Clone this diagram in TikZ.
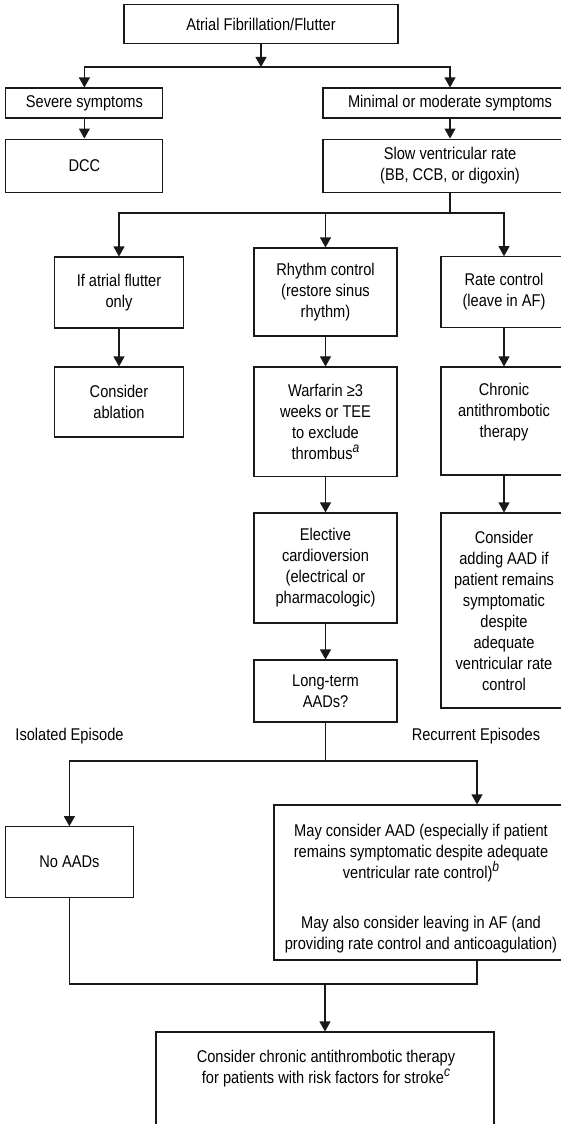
\documentclass[tikz,border=0pt]{standalone}
\usepackage{fontspec}
\setmainfont{Liberation Sans}[FakeStretch=0.86]
\usetikzlibrary{arrows.meta}
\newcommand{\fnmark}[1]{\raisebox{7pt}{\fontsize{14}{14}\selectfont\itshape #1}}
\begin{document}
\begin{tikzpicture}[x=1pt,y=-1pt]
\tikzset{
  every node/.style={font=\fontsize{17}{21}\selectfont, text=black},
  box/.style={draw=black!90, line width=1.1pt, rectangle, inner sep=0pt, align=center},
  txt/.style={inner sep=0pt, align=center},
  arr/.style={draw=black!90, line width=1.1pt, -{Triangle[width=11pt,length=10pt]}},
  ln/.style={draw=black!90, line width=1.1pt},
}
\useasboundingbox (0,0) rectangle (561,1124);
\clip (0,0) rectangle (561,1124);

% first level
\node[box, minimum width=274pt, minimum height=38.5pt] (top) at (261,24) {Atrial Fibrillation/Flutter};
\node[box, minimum width=157pt, minimum height=30pt] (severe) at (84.4,103) {Severe symptoms};
\node[box, minimum width=254pt, minimum height=30pt] (minimal) at (450,103) {Minimal or moderate symptoms};
\node[box, minimum width=157pt, minimum height=53.5pt] (dcc) at (84.4,165.8) {DCC};
\node[box, minimum width=254pt, minimum height=53.5pt] (slow) at (450,165.8) {Slow ventricular rate\\(BB, CCB, or digoxin)};

% three strategies
\node[box, minimum width=128.3pt, minimum height=71pt] (flutter) at (119,292.5) {If atrial flutter\\only};
\node[box, minimum width=143pt, minimum height=88pt] (rhythm) at (325.5,292) {Rhythm control\\(restore sinus\\rhythm)};
\node[box, minimum width=126pt, minimum height=70.5pt] (rate) at (504,292) {Rate control\\(leave in AF)};
\node[box, minimum width=128.3pt, minimum height=70pt] (ablation) at (119,402) {Consider\\ablation};
\node[box, minimum width=143pt, minimum height=109.5pt] (warfarin) at (325.5,421.7) {Warfarin ≥3\\weeks or TEE\\to exclude\\thrombus\fnmark{a}};
\node[box, minimum width=126pt, minimum height=108pt] (chronic) at (504,421) {Chronic\\antithrombotic\\therapy\\\mbox{}};
\node[box, minimum width=143pt, minimum height=110pt] (elective) at (325.5,568) {Elective\\cardioversion\\(electrical or\\pharmacologic)};
\node[box, minimum width=126pt, minimum height=195pt] (adding) at (504,610.5) {Consider\\adding AAD if\\patient remains\\symptomatic\\despite\\adequate\\ventricular rate\\control};
\node[box, minimum width=143pt, minimum height=62pt] (longterm) at (325.5,691) {Long-term\\AADs?};

% long-term therapy branches
\node[txt] (isolated) at (69.5,736) {Isolated Episode};
\node[txt] (recurrent) at (476,736) {Recurrent Episodes};
\node[box, minimum width=127.3pt, minimum height=70.5pt] (noaads) at (69.4,862) {No AADs};
\node[box, minimum width=294pt, minimum height=155pt] (may) at (421,882.5) {};
\node[txt] (mayT) at (421,888.5) {May consider AAD (especially if patient\\remains symptomatic despite adequate\\ventricular rate control)\fnmark{b}\\[29pt]May also consider leaving in AF (and\\providing rate control and anticoagulation)};
\node[box, minimum width=338pt, minimum height=130pt] (bottom) at (325,1097) {};
\node[txt] (bottomT) at (326,1068.5) {Consider chronic antithrombotic therapy\\for patients with risk factors for stroke\fnmark{c}};

% junctions
\coordinate (j1) at (261,67);
\coordinate (j2) at (450,213);
\coordinate (j3) at (325.5,761);
\coordinate (j4) at (325,984);

% connectors
\draw[arr] (top.south) -- (j1);
\draw[arr] (j1) -| (severe.north);
\draw[arr] (j1) -| (minimal.north);
\draw[arr] (severe) -- (dcc);
\draw[arr] (minimal) -- (slow);
\draw[ln] (slow.south) -- (j2);
\draw[arr] (j2) -| (flutter.north);
\draw[arr] (j2) -| (rhythm.north);
\draw[arr] (j2) -| (rate.north);
\draw[arr] (flutter) -- (ablation);
\draw[arr] (rhythm) -- (warfarin);
\draw[arr] (warfarin) -- (elective);
\draw[arr] (elective) -- (longterm);
\draw[arr] (rate) -- (chronic);
\draw[arr] (chronic) -- (adding);
\draw[ln] (longterm.south) -- (j3);
\draw[arr] (j3) -| (noaads.north);
\draw[arr] (j3) -| ([xshift=56pt]may.north);
\draw[ln] (noaads.south) |- (j4);
\draw[ln] ([xshift=56pt]may.south) |- (j4);
\draw[arr] (j4) -- (bottom.north);
\end{tikzpicture}
\end{document}
